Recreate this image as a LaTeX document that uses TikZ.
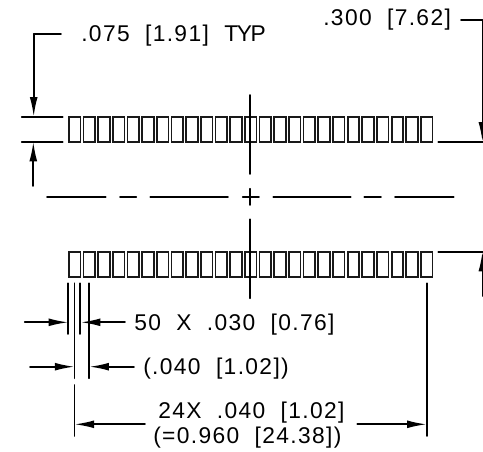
\documentclass[tikz,border=0pt]{standalone}
\usepackage{fontspec}
\usepackage{tkz-euclide}
\usetikzlibrary{arrows.meta}
\setmainfont[LetterSpace=6]{Liberation Sans}
\tikzset{
  dimline/.style={line width=1.25pt,black},
  dimarrow/.style={dimline,-{Latex[length=14pt,width=5.6pt]}},
  padbox/.style={line width=1.25pt,draw=black!90},
  dimtext/.style={anchor=west,inner sep=0pt,font=\fontsize{16.2}{18}\selectfont}
}

\begin{document}
\begin{tikzpicture}[x=0.25mm,y=-0.25mm]
    \clip (0,0) rectangle (483,452);
    \foreach \i in {0,...,24} {
        \draw[padbox] ({68.9+\i*14.67},116.7) rectangle ++(11.5,25);
        \draw[padbox] ({68.9+\i*14.67},251.7) rectangle ++(11.5,25);
    }
    % top left leader
    \tkzDefPoints{61/34/La,33.7/34/Lb,33.7/116.7/Lc,33.3/186/Ld,33.3/141.7/Le}
    \tkzDefPoints{21.7/116.7/Ea,62.7/116.7/Eb,21.7/141.7/Ec,62.7/141.7/Ed}
    \tkzDrawSegments[dimline](La,Lb Ea,Eb Ec,Ed)
    \tkzDrawSegments[dimarrow](Lb,Lc Ld,Le)
    % top right leader
    \tkzDefPoints{461/20/Ra,482.4/20/Rb,482.4/141.7/Rc,482.4/296/Rd,482.4/251.7/Re}
    \tkzDefPoints{438.3/141.7/Fa,483/141.7/Fb,438.3/251.7/Fc,483/251.7/Fd}
    \tkzDrawSegments[dimline](Ra,Rb Fa,Fb Fc,Fd)
    \tkzDrawSegments[dimarrow](Rb,Rc Rd,Re)
    % center lines
    \tkzDefPoints{47/196.7/Ca,105.7/196.7/Cb,120/196.7/Cc,136.3/196.7/Cd,150.3/196.7/Ce,228/196.7/Cf}
    \tkzDefPoints{242.7/196.7/Cg,259/196.7/Ch,273.3/196.7/Ci,350.7/196.7/Cj,364.3/196.7/Ck,381/196.7/Cl,395/196.7/Cm,453.7/196.7/Cn}
    \tkzDefPoints{250.3/95/Va,250.3/174/Vb,250.3/188.7/Vc,250.3/205/Vd,250.3/219.3/Ve,250.3/298.3/Vf}
    \tkzDrawSegments[dimline](Ca,Cb Cc,Cd Ce,Cf Cg,Ch Ci,Cj Ck,Cl Cm,Cn Va,Vb Vc,Vd Ve,Vf)
    % bottom witness lines
    \tkzDefPoints{68.3/283.3/Wa,68.3/334/Wb,80/283.3/Wc,80/334/Wd,74.5/283.3/We,74.5/378.3/Wf,89.3/283.3/Wg,89.3/378.3/Wh}
    \tkzDefPoints{74.5/385/Wi,74.5/436/Wj,426.7/283.3/Wk,426.7/436/Wl}
    \tkzDrawSegments[dimline](Wa,Wb Wc,Wd We,Wf Wg,Wh Wi,Wj Wk,Wl)
    % bottom arrows
    \tkzDefPoints{24.7/322.3/Aa,68.3/322.3/Ab,125/322.3/Ac,80.8/322.3/Ad}
    \tkzDefPoints{30/366.7/Ae,74.5/366.7/Af,134/366.7/Ag,89.3/366.7/Ah}
    \tkzDefPoints{145/424.3/Ai,74.5/424.3/Aj,357.3/424.3/Ak,426.7/424.3/Al}
    \tkzDrawSegments[dimarrow](Aa,Ab Ac,Ad Ae,Af Ag,Ah Ai,Aj Ak,Al)
    % labels
    \node[dimtext] (typ) at (81,36) {.075\ \ [1.91]\ \ {\addfontfeature{LetterSpace=-6}TYP}};
    \node[dimtext] (ctc) at (323,20) {.300\ \ [7.62]};
    \node[dimtext] (pads) at (134,324.5) {50\ \ X\ \ .030\ \ [0.76]};
    \node[dimtext] (pitch) at (143,369) {(.040\ \ [1.02])};
    \node[dimtext] (span) at (158,412.5) {24X\ \ .040\ \ [1.02]};
    \node[dimtext] (total) at (153,438) {(=0.960\ \ [24.38])};
\end{tikzpicture}
\end{document}
